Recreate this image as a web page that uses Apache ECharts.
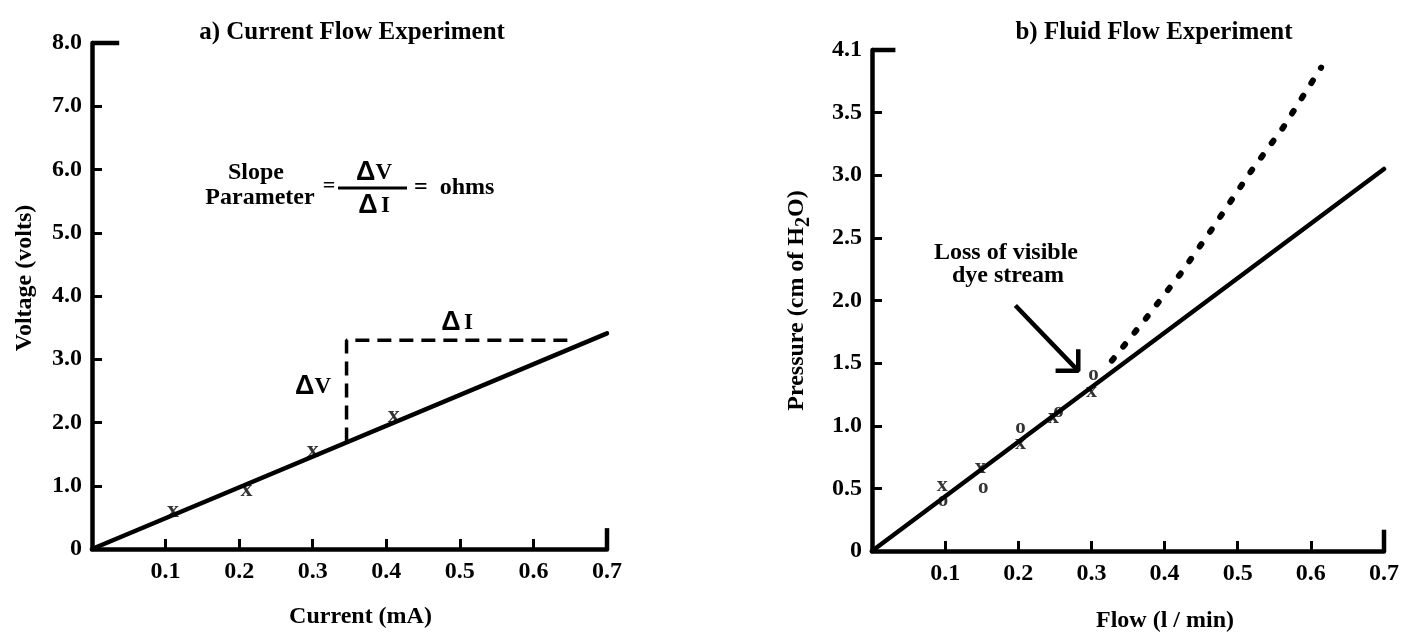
<!DOCTYPE html>
<html><head><meta charset="utf-8">
<script src="https://cdn.jsdelivr.net/npm/echarts@6/dist/echarts.min.js"></script>
<style>html,body{margin:0;padding:0;background:#fff}#c{width:1402px;height:638px}</style>
</head><body><div id="c"></div>
<script>
// ---------- Panel a) Current Flow Experiment ----------
const currentTickLabels = ['', '0.1', '0.2', '0.3', '0.4', '0.5', '0.6', '0.7'];
const voltageTickLabels = ['0', '1.0', '2.0', '3.0', '4.0', '5.0', '6.0', '7.0', '8.0'];
const currentPoints = [[0.11, 0.58], [0.21, 0.90], [0.30, 1.52], [0.41, 2.07]];
const currentFit = [[0, 0], [0.70, 3.41]];
const slopeGuide = [[0.346, 1.70], [0.346, 3.30], [0.655, 3.30]];

// ---------- Panel b) Fluid Flow Experiment ----------
const flowTickLabels = ['', '0.1', '0.2', '0.3', '0.4', '0.5', '0.6', '0.7'];
const pressureTickLabels = ['0', '0.5', '1.0', '1.5', '2.0', '2.5', '3.0', '3.5', '4.1'];
const flowX = [[0.096, 0.51], [0.148, 0.65], [0.203, 0.84], [0.248, 1.05], [0.300, 1.26]];
const flowO = [[0.097, 0.39], [0.152, 0.49], [0.203, 0.97], [0.255, 1.10], [0.303, 1.39]];
const flowFit = [[0, 0], [0.70, 3.05]];
const flowDotted = [[0.328, 1.52], [0.377, 1.875], [0.422, 2.215], [0.463, 2.555], [0.518, 3.03], [0.562, 3.38], [0.614, 3.86]];
const arrowShaft = [[0.196, 1.96], [0.280, 1.45]];
const arrowHead = [[0.251, 1.44], [0.282, 1.44], [0.282, 1.61]];

const FONT = 'Liberation Serif';
const BLACK = '#000';
const txt = (size) => ({ fontFamily: FONT, fontWeight: 'bold', fontSize: size, color: BLACK });

function xAxisCfg(grid, labels, name, gap, pad) {
  return {
    gridIndex: grid, type: 'value', min: 0, max: 0.7, interval: 0.1,
    axisLine: { show: true, onZero: false, lineStyle: { color: BLACK, width: 4.5 } },
    axisTick: { show: true, inside: true, length: 10, lineStyle: { color: BLACK, width: 3 } },
    axisLabel: Object.assign({ margin: 11, showMinLabel: true, showMaxLabel: true,
      formatter: v => labels[Math.round(v / 0.1)] }, txt(24)),
    splitLine: { show: false },
    name: name, nameLocation: 'middle', nameGap: gap,
    nameTextStyle: Object.assign({ padding: pad }, txt(24))
  };
}
function yAxisCfg(grid, labels, max, step, name, gap, nameStyle) {
  return {
    gridIndex: grid, type: 'value', min: 0, max: max, interval: step,
    axisLine: { show: true, onZero: false, lineStyle: { color: BLACK, width: 4.5 } },
    axisTick: { show: true, inside: true, length: 10, lineStyle: { color: BLACK, width: 3 } },
    axisLabel: Object.assign({ margin: 10, showMinLabel: true, showMaxLabel: true,
      formatter: v => labels[Math.round(v / step)] }, txt(24)),
    splitLine: { show: false },
    name: name, nameLocation: 'middle', nameGap: gap, nameTextStyle: nameStyle
  };
}
function lineSeries(xi, data, width, extra) {
  return {
    type: 'line', xAxisIndex: xi, yAxisIndex: xi, data: data, symbol: 'none', clip: false,
    silent: true, animation: false,
    lineStyle: Object.assign({ color: BLACK, width: width, cap: 'round' }, extra || {})
  };
}
function glyphSeries(xi, data, glyph, size) {
  return {
    type: 'scatter', xAxisIndex: xi, yAxisIndex: xi, data: data, symbolSize: 1, z: 5,
    itemStyle: { color: 'rgba(0,0,0,0)' }, animation: false, silent: true,
    label: Object.assign({ show: true, position: 'inside', offset: [0, -2], formatter: glyph }, txt(size))
  };
}
const deltaRich = {
  d: { font: 'bold 27px "Liberation Sans"', fill: BLACK },
  v: { font: 'bold 23px "Liberation Serif"', fill: BLACK }
};
function textAt(x, y, text, size, align) {
  return { type: 'text', x: x, y: y, style: { text: text, textAlign: align || 'center', textVerticalAlign: 'middle',
    font: 'bold ' + size + 'px "Liberation Serif"', fill: BLACK } };
}
function deltaAt(x, y, text) {
  return { type: 'text', x: x, y: y, style: { text: text, textAlign: 'center', textVerticalAlign: 'middle', rich: deltaRich } };
}

const chart = echarts.init(document.getElementById('c'));
chart.setOption({
  backgroundColor: '#fff',
  animation: false,
  grid: [
    { left: 92, right: 795, top: 43, bottom: 89 },
    { left: 872, right: 17, top: 50, bottom: 83 }
  ],
  xAxis: [
    xAxisCfg(0, currentTickLabels, 'Current (mA)', 56, [0, 0, 0, 22]),
    xAxisCfg(1, flowTickLabels, 'Flow (l / min)', 58, [0, 0, 0, 74])
  ],
  yAxis: [
    yAxisCfg(0, voltageTickLabels, 8, 1, 'Voltage (volts)', 55, Object.assign({ padding: [0, 0, 0, 36] }, txt(24))),
    yAxisCfg(1, pressureTickLabels, 4, 0.5, '{n|Pressure (cm of H}{s|2}{n|O)}', 58, {
      rich: {
        n: { fontFamily: FONT, fontWeight: 'bold', fontSize: 24, color: BLACK, lineHeight: 34, verticalAlign: 'middle' },
        s: { fontFamily: FONT, fontWeight: 'bold', fontSize: 20, color: BLACK, lineHeight: 20, verticalAlign: 'bottom' }
      }
    })
  ],
  series: [
    // panel a
    lineSeries(0, currentFit, 4.5),
    lineSeries(0, slopeGuide, 3.5, { type: [14, 8], cap: 'butt' }),
    lineSeries(0, [[0, 8], [0.037, 8]], 4.5, { cap: 'butt' }),
    lineSeries(0, [[0.7, 0], [0.7, 0.33]], 4.5, { cap: 'butt' }),
    glyphSeries(0, currentPoints, 'x', 24),
    // panel b
    lineSeries(1, flowFit, 4.5),
    lineSeries(1, flowDotted, 6, { type: [3, 15], cap: 'round' }),
    lineSeries(1, [[0, 4], [0.032, 4]], 4.5, { cap: 'butt' }),
    lineSeries(1, [[0.7, 0], [0.7, 0.17]], 4.5, { cap: 'butt' }),
    lineSeries(1, arrowShaft, 4.5, { cap: 'butt' }),
    lineSeries(1, arrowHead, 4.5, { cap: 'butt' }),
    glyphSeries(1, flowX, 'x', 22),
    glyphSeries(1, flowO, 'o', 21)
  ],
  graphic: [
    textAt(352, 33, 'a) Current Flow Experiment', 25),
    textAt(1154, 33, 'b) Fluid Flow Experiment', 25),
    textAt(256, 173, 'Slope', 24),
    textAt(260, 198, 'Parameter', 24),
    textAt(329, 186, '=', 22),
    { type: 'line', shape: { x1: 338, y1: 188, x2: 407, y2: 188 }, style: { stroke: BLACK, lineWidth: 3 } },
    deltaAt(374, 173, '{d|Δ}{v|V}'),
    deltaAt(374, 206, '{d|Δ} {v|I}'),
    textAt(414, 188, '=  ohms', 24, 'left'),
    deltaAt(313, 387, '{d|Δ}{v|V}'),
    deltaAt(457, 323, '{d|Δ} {v|I}'),
    textAt(1006, 253, 'Loss of visible', 24),
    textAt(1008, 276, 'dye stream', 24)
  ]
});
</script></body></html>
